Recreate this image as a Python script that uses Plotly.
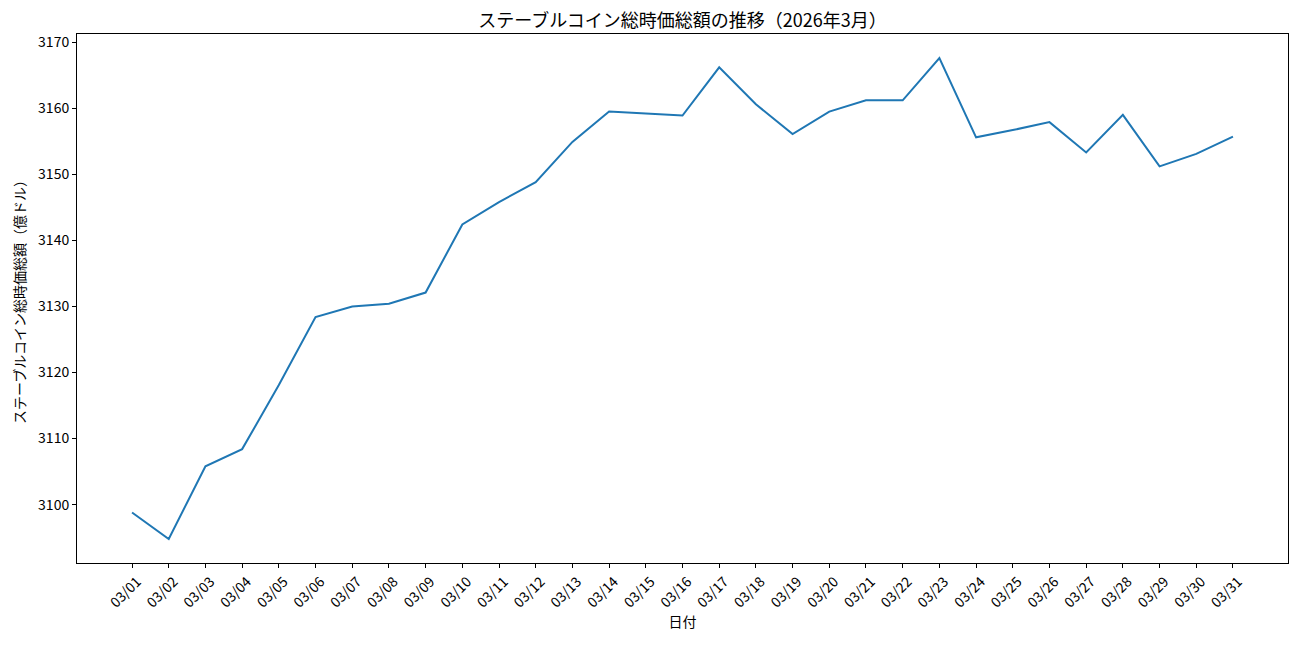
import plotly.graph_objects as go

dates = [f"03/{d:02d}" for d in range(1, 32)]
values = [3098.8, 3094.8, 3105.8, 3108.4, 3118.1, 3128.4, 3130.0, 3130.4, 3132.1,
          3142.4, 3145.8, 3148.8, 3154.9, 3159.5, 3159.2, 3158.9, 3166.2, 3160.6,
          3156.1, 3159.5, 3161.2, 3161.2, 3167.6, 3155.6, 3156.7, 3157.9, 3153.3,
          3159.0, 3151.2, 3153.1, 3155.7]
y_ticks = [3100, 3110, 3120, 3130, 3140, 3150, 3160, 3170]

FONT = "Noto Sans CJK JP"
idx = list(range(len(dates)))

W, H = 1284, 629
fig = go.Figure(go.Scatter(x=idx, y=values, mode="lines",
                           line=dict(color="#1f77b4", width=2), showlegend=False))

fig.update_layout(
    width=W, height=H,
    margin=dict(l=69, r=4, t=26, b=74, autoexpand=False),
    paper_bgcolor="white", plot_bgcolor="white",
    font=dict(family=FONT, size=14, color="black"),
    title=dict(text="ステーブルコイン総時価総額の推移（2026年3月）", x=0.5, xref="paper",
               xanchor="center", yref="container",
               y=1 - 13 / H, yanchor="middle", font=dict(size=18, family=FONT)),
)
fig.update_xaxes(
    range=[-1.5, 31.5], tickvals=idx, ticktext=dates, tickangle=-45,
    showgrid=False, zeroline=False, showline=True, linecolor="black", linewidth=1,
    mirror=True, ticks="outside", ticklen=4, tickcolor="black", automargin=False,
    ticklabelshift=5,
    title=dict(text="日付", font=dict(size=14), standoff=6),
    tickfont=dict(size=14),
)
y_min = min(values); y_max = max(values); pad = (y_max - y_min) * 0.05
fig.update_yaxes(
    range=[y_min - pad, y_max + pad], tickvals=y_ticks,
    showgrid=False, zeroline=False, showline=True, linecolor="black", linewidth=1,
    mirror=True, ticks="outside", ticklen=4, tickcolor="black", automargin=False,
    title=dict(text="ステーブルコイン総時価総額（億ドル）", font=dict(size=14), standoff=9),
    tickfont=dict(size=14),
)
fig.write_html("out.html")
